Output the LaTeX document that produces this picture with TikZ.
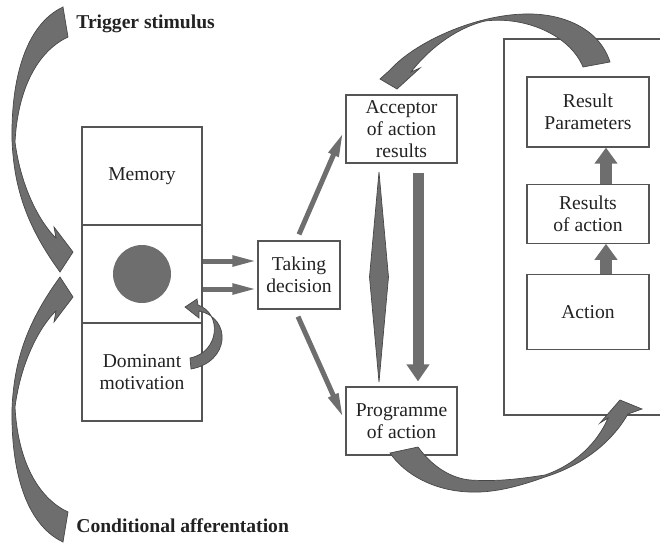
\documentclass[tikz,border=0pt]{standalone}
\usepackage{fontspec}
\setmainfont{Liberation Serif}
\usetikzlibrary{positioning, arrows.meta, calc}
\definecolor{arrowgray}{HTML}{6E6E6E}
\definecolor{edgegray}{HTML}{474747}
\definecolor{boxline}{HTML}{555555}
\definecolor{txt}{HTML}{222222}

\begin{document}
\begin{tikzpicture}[x=0.5pt, y=-0.5pt, font=\fontsize{9.8pt}{11pt}\selectfont, text=txt,
  box/.style={draw=boxline, line width=0.6pt, align=center, inner sep=0pt},
  colbox/.style={box, minimum width=60pt, minimum height=49pt},
  rbox/.style={box, minimum width=61pt},
  label/.style={anchor=base west, inner sep=0pt, font=\fontsize{9.8pt}{11pt}\selectfont\bfseries},
  fatarrow/.style={fill=arrowgray, draw=edgegray, line width=0.35pt, line join=miter},
  slimarrow/.style={draw=arrowgray, line width=2.5pt, -{Triangle[length=12.5pt, width=5pt]}},
  bigarrow/.style={draw=arrowgray, line width=5.5pt, -{Triangle[length=8.5pt, width=11pt]}},
  uparrow/.style={draw=arrowgray, line width=6pt, -{Triangle[length=8pt, width=11pt]}}]
  \useasboundingbox (0,0) rectangle (660,542);

  % left column
  \node[colbox] (mem) at (142,176) {Memory};
  \node[colbox, below=-0.6pt of mem] (mid) {};
  \node[colbox, below=-0.6pt of mid] (dom) {Dominant\\motivation};
  \node[circle, fill=arrowgray, minimum size=29pt, inner sep=0pt] (dot) at (mid) {};

  % middle
  \node[box, minimum width=41pt, minimum height=34pt] (dec) at (299,275) {Taking\\decision};
  \node[box, minimum width=55.5pt, minimum height=34pt] (acc) at (401.5,129) {Acceptor\\of action\\results};
  \node[box, minimum width=55.5pt, minimum height=34pt] (prog) at (401.5,421) {Programme\\of action};

  % right column
  \draw[boxline, line width=0.6pt] (660,39) -- (504,39) -- (504,415) -- (660,415);
  \node[rbox, minimum height=35pt] (par) at (588,112) {Result\\Parameters};
  \node[rbox, minimum height=29.5pt, below=18pt of par] (res) {Results\\of action};
  \node[rbox, minimum height=37.5pt, below=15pt of res] (act) {Action};

  \node[label] (trig) at (76,28) {Trigger stimulus};
  \node[label] (cond) at (76,532) {Conditional afferentation};

  % straight arrows
  \coordinate (o1) at ($(mid.east)+(0,-13)$);
  \coordinate (o2) at ($(mid.east)+(0,15)$);
  \draw[slimarrow] (o1) -- (o1 -| dec.west); \draw[slimarrow] (o2) -- (o2 -| dec.west);
  \draw[slimarrow] ($(dec.north)+(0,-6)$) -- ($(acc.west)+(-2,3)$);
  \draw[slimarrow] ($(dec.south)+(-1,7)$) -- ($(prog.west)+(-2,-3)$);
  \draw[bigarrow] ($(acc.south)+(16.5,9)$) -- ($(prog.north)+(16.5,-5)$);
  \draw[uparrow] ($(act.north)+(18,0)$) -- ($(res.south)+(18,0)$);
  \draw[uparrow] ($(res.north)+(18,0)$) -- ($(par.south)+(18,0)$);
  \filldraw[fatarrow] (379,172) -- (388.5,277) -- (379,382) -- (369.5,277) -- cycle;

  % curved arrows
  \filldraw[fatarrow] (63,7) .. controls (25,25) and (11,80) .. (12,140)
    .. controls (14,190) and (28,228) .. (60,272) -- (73,252) -- (54,227) -- (56,238)
    .. controls (45,228) and (22,195) .. (15,142) .. controls (18,85) and (40,50) .. (68,37) -- cycle;
  \filldraw[fatarrow] (63,542) .. controls (25,524) and (11,469) .. (12,409)
    .. controls (14,359) and (28,321) .. (60,277) -- (73,297) -- (54,322) -- (56,311)
    .. controls (45,321) and (22,354) .. (15,407) .. controls (18,464) and (40,499) .. (68,512) -- cycle;
  \filldraw[fatarrow] (191,369) .. controls (230,362) and (232,318) .. (199,311) -- (199,318)
    -- (185,307) -- (197,299) -- (198,305) .. controls (222,313) and (220,352) .. (190,358) -- cycle;
  \filldraw[fatarrow] (610,62) .. controls (600,30) and (565,13) .. (525,14)
    .. controls (475,15) and (415,42) .. (390,70) -- (380,79) -- (397,89) -- (420,68) -- (411,72)
    .. controls (432,45) and (460,27) .. (485,21) .. controls (525,16) and (570,35) .. (583,67) -- cycle;
  \filldraw[fatarrow] (418,447) .. controls (432,466) and (450,478) .. (470,480)
    .. controls (500,482) and (525,478) .. (545,475) .. controls (575,465) and (598,442) .. (608,418)
    -- (600,423) -- (620,400) -- (642,409) -- (628,414)
    .. controls (610,445) and (580,466) .. (545,477) .. controls (520,486) and (495,493) .. (470,492)
    .. controls (435,491) and (405,475) .. (390,453) -- cycle;
\end{tikzpicture}
\end{document}
